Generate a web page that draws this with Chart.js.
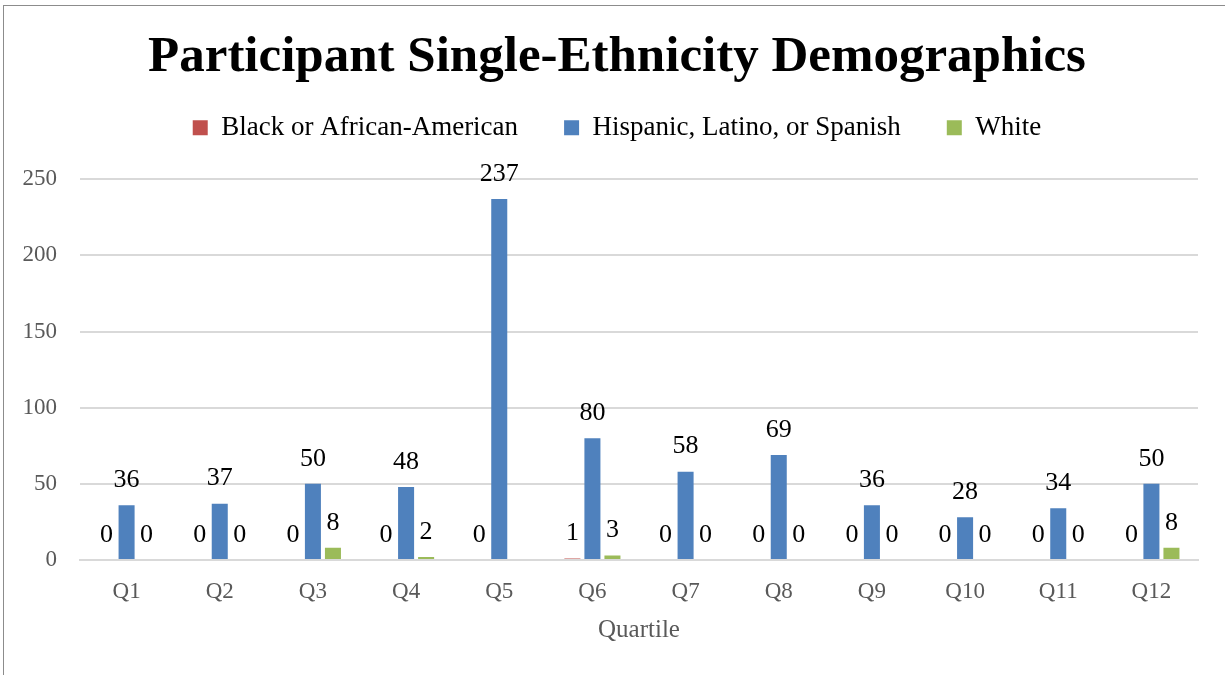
<!DOCTYPE html>
<html>
<head>
<meta charset="utf-8">
<script src="https://cdn.jsdelivr.net/npm/chart.js@4.4.1/dist/chart.umd.min.js"></script>
<style>
  html, body { margin: 0; padding: 0; background: #fff; }
  #wrap { position: relative; width: 1225px; height: 675px; overflow: hidden; }
  #frame { position: absolute; left: 3px; top: 5px; width: 1240px; height: 700px; border: 1.5px solid #8c8c8c; box-sizing: border-box; }
  canvas { position: absolute; left: 0; top: 0; }
</style>
</head>
<body>
<div id="wrap">
  <div id="frame"></div>
  <canvas id="c" width="1225" height="675"></canvas>
</div>
<script>
const categories = ["Q1","Q2","Q3","Q4","Q5","Q6","Q7","Q8","Q9","Q10","Q11","Q12"];
const black = [0, 0, 0, 0, 0, 1, 0, 0, 0, 0, 0, 0];
const hispanic = [36, 37, 50, 48, 237, 80, 58, 69, 36, 28, 34, 50];
const white = [0, 0, 8, 2, null, 3, 0, 0, 0, 0, 0, 8];
const seriesNames = ["Black or African-American", "Hispanic, Latino, or Spanish", "White"];
const yTicks = [0, 50, 100, 150, 200, 250];

const FONT = "'Liberation Serif', 'DejaVu Serif', serif";

const labelPlugin = {
  id: 'barLabels',
  afterDatasetsDraw(chart) {
    const ctx = chart.ctx;
    ctx.save();
    ctx.fillStyle = '#000';
    ctx.font = "26px " + FONT;
    ctx.textAlign = 'center';
    ctx.textBaseline = 'middle';
    chart.data.datasets.forEach((ds, di) => {
      const meta = chart.getDatasetMeta(di);
      meta.data.forEach((el, i) => {
        const v = ds.data[i];
        if (v === null || v === undefined) return;
        ctx.fillText(String(v), el.x, el.y - 25);
      });
    });
    ctx.restore();
  }
};

const legendSpace = {
  id: 'legendSpace',
  beforeInit(chart) {
    const orig = chart.legend.fit;
    chart.legend.fit = function () {
      orig.call(this);
      this.height += 28;
    };
  }
};

new Chart(document.getElementById('c'), {
  type: 'bar',
  data: {
    labels: categories,
    datasets: [
      { label: seriesNames[0], data: black, backgroundColor: '#c0504d' },
      { label: seriesNames[1], data: hispanic, backgroundColor: '#4f81bd' },
      { label: seriesNames[2], data: white, backgroundColor: '#9bbb59' }
    ]
  },
  options: {
    responsive: false,
    animation: false,
    devicePixelRatio: 1,
    datasets: { bar: { categoryPercentage: 0.645, barPercentage: 0.8 } },
    layout: { padding: { left: 36, right: 27, top: 20, bottom: 26 } },
    plugins: {
      title: {
        display: true,
        text: 'Participant Single-Ethnicity Demographics',
        color: '#000',
        font: { family: FONT, size: 51, weight: 'bold' },
        padding: { top: 7, bottom: -20 }
      },
      legend: {
        display: true,
        position: 'top',
        labels: {
          color: '#000',
          font: { family: FONT, size: 27 },
          boxWidth: 15, boxHeight: 15,
          padding: 46
        }
      },
      tooltip: { enabled: false }
    },
    scales: {
      x: {
        grid: { display: false, drawTicks: false },
        border: { display: true, color: '#d9d9d9', width: 2 },
        ticks: { color: '#595959', font: { family: FONT, size: 23 }, padding: 18 },
        title: { display: true, text: 'Quartile', color: '#595959', font: { family: FONT, size: 25 }, padding: { top: 4, bottom: 4 } },
        afterFit(scale) { scale.height = 89; }
      },
      y: {
        min: 0, max: 250,
        afterBuildTicks(axis) { axis.ticks = yTicks.map(v => ({ value: v })); },
        grid: { color: '#d9d9d9', lineWidth: 2, drawTicks: false },
        border: { display: false },
        ticks: { color: '#595959', font: { family: FONT, size: 23 }, padding: 23 },
        afterFit(scale) {
          scale.width = 44;
          scale._computeLabelArea = function () { return undefined; };
        }
      }
    }
  },
  plugins: [labelPlugin, legendSpace]
});
</script>
</body>
</html>
